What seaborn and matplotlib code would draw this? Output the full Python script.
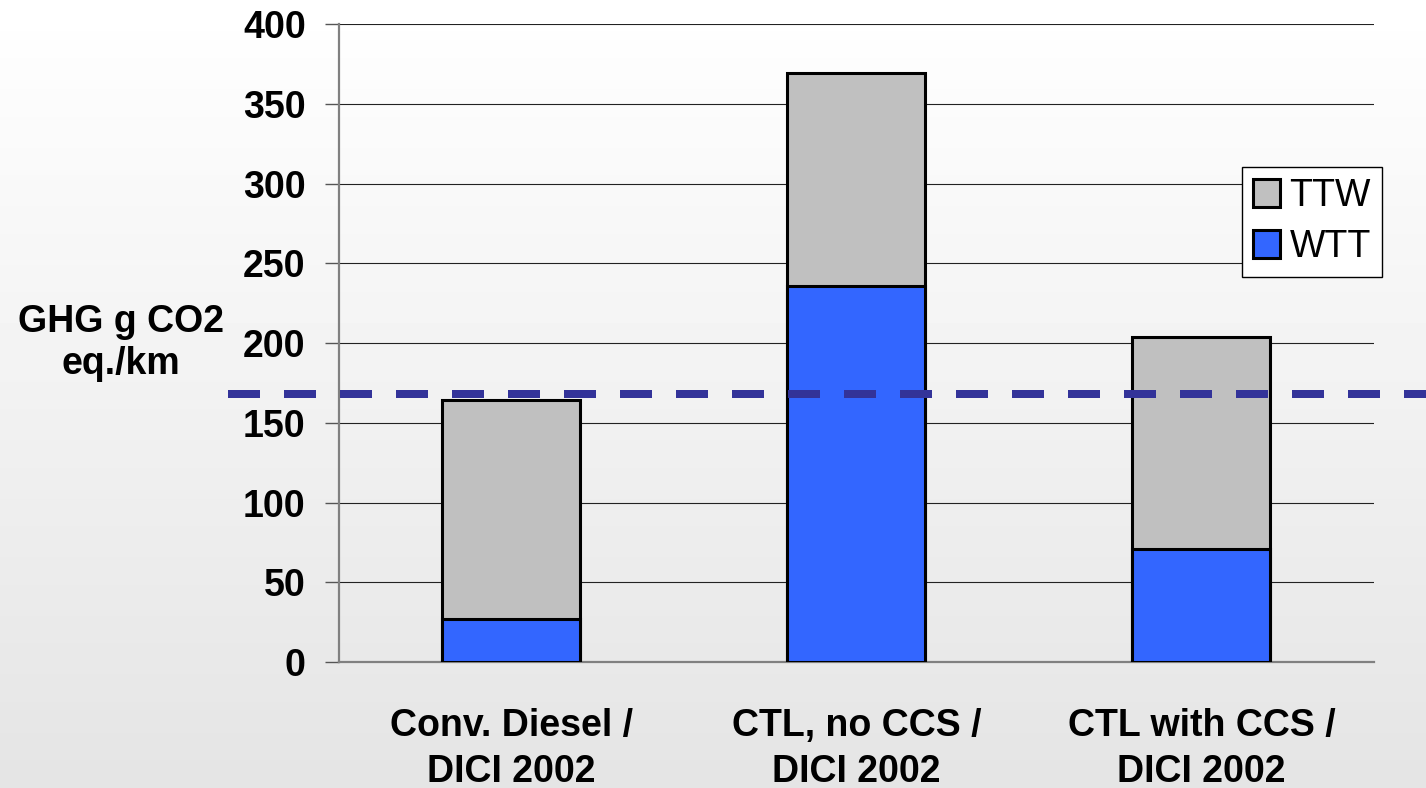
import matplotlib
matplotlib.use("Agg")
import matplotlib.pyplot as plt
import numpy as np
import pandas as pd
import seaborn as sns
from matplotlib.patches import Patch

# GHG emissions well-to-tank (WTT) and tank-to-wheel (TTW), g CO2 eq./km
fuels = ["Conv. Diesel /\nDICI 2002", "CTL, no CCS /\nDICI 2002", "CTL with CCS /\nDICI 2002"]
wtt = [27, 236, 71]
ttw = [137, 133, 133]
reference_level = 168
y_ticks = [0, 50, 100, 150, 200, 250, 300, 350, 400]

df = pd.DataFrame({"fuel": fuels, "WTT": wtt, "TTW": ttw})
df["total"] = df["WTT"] + df["TTW"]

sns.set_style("white")
plt.rcParams["font.family"] = ["Liberation Sans", "DejaVu Sans"]
plt.rcParams["text.color"] = "black"
plt.rcParams["axes.labelcolor"] = "black"
plt.rcParams["xtick.labelcolor"] = "black"
plt.rcParams["ytick.labelcolor"] = "black"

fig = plt.figure(figsize=(14.26, 7.88), dpi=100)

# soft vertical gradient behind everything
bg = fig.add_axes([0, 0, 1, 1], zorder=-10)
grad = np.linspace(1.0, 0.895, 256).reshape(-1, 1)
bg.imshow(grad, aspect="auto", cmap="gray", vmin=0, vmax=1, extent=[0, 1, 0, 1])
bg.axis("off")

ax = fig.add_axes([0.2377, 0.1599, 0.7258, 0.8096])
ax.set_facecolor("none")

grey = "#c0c0c0"
blue = "#3366ff"
sns.barplot(data=df, x="fuel", y="total", color=grey, saturation=1, width=0.4,
            edgecolor="black", linewidth=2.2, ax=ax, zorder=3)
sns.barplot(data=df, x="fuel", y="WTT", color=blue, saturation=1, width=0.4,
            edgecolor="black", linewidth=2.2, ax=ax, zorder=4)

ax.plot([-0.107, 1.06], [reference_level, reference_level], transform=ax.get_yaxis_transform(),
        color="#333399", lw=5.76, linestyle=(0, (4, 3)), dash_capstyle="butt",
        clip_on=False, zorder=6)

ax.set_xlim(-0.5, 2.5)
ax.set_ylim(0, 400)
ax.set_yticks(y_ticks)
ax.set_yticklabels([str(v) for v in y_ticks], fontsize=27, fontweight="bold", color="black")
ax.yaxis.grid(True, color="#222222", lw=0.8)
ax.set_axisbelow(True)

ax.set_xticks(range(len(fuels)))
ax.set_xticklabels(fuels, fontsize=27, fontweight="bold", linespacing=1.35, color="black")
ax.set_xticks([-0.5, 0.5, 1.5, 2.5], minor=True)
ax.tick_params(axis="x", which="major", length=0, pad=33)
ax.tick_params(axis="x", which="minor", length=9.5, width=1, color="#555555", direction="out")
ax.tick_params(axis="y", length=10, width=1, color="#555555", direction="out", pad=14, left=True)

for side in ["top", "right"]:
    ax.spines[side].set_visible(False)
for side in ["left", "bottom"]:
    ax.spines[side].set_color("#808080")
    ax.spines[side].set_linewidth(1.6)

ax.set_xlabel("")
ax.set_ylabel("GHG g CO2\neq./km", rotation=0, fontsize=27, fontweight="bold", color="black",
              ha="center", va="center", linespacing=1.2)
ax.yaxis.set_label_coords(-0.2106, 0.5)

handles = [Patch(facecolor=grey, edgecolor="black", lw=2.2, label="TTW"),
           Patch(facecolor=blue, edgecolor="black", lw=2.2, label="WTT")]
leg = fig.legend(handles=handles, loc="upper right", bbox_to_anchor=(1382 / 1426, 1 - 167 / 788),
                 fontsize=27, frameon=True, fancybox=False, framealpha=1, edgecolor="black",
                 handlelength=0.72, handleheight=0.75, handletextpad=0.25, labelspacing=0.4,
                 borderpad=0.3, borderaxespad=0)
leg.get_frame().set_linewidth(1)

fig.savefig("out.png", dpi=100)
